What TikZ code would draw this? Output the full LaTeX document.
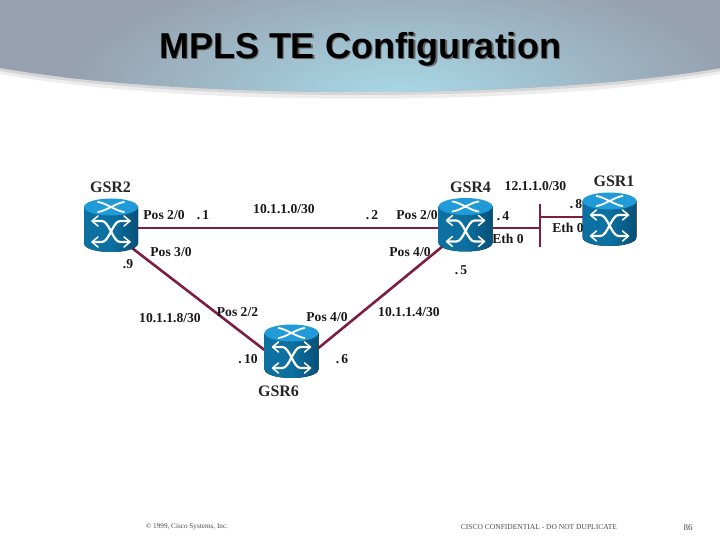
\documentclass[tikz,border=0pt]{standalone}
\usepackage{fontspec}
\setmainfont{Liberation Serif}
\newfontfamily\titlefont{Liberation Sans}
\definecolor{linkred}{RGB}{125,30,60}
\definecolor{rtop}{RGB}{32,155,215}
\definecolor{rside}{RGB}{12,112,160}
\definecolor{rdark}{RGB}{5,80,120}
\definecolor{banedge}{RGB}{150,160,175}
\definecolor{banmid}{RGB}{168,216,230}
\tikzset{
  x=1pt,y=-1pt,
  lnk/.style={draw=linkred,line width=2.6pt},
  rbox/.style={minimum width=54pt,minimum height=53pt,inner sep=0pt,outer sep=0pt},
  lbl/.style={font=\bfseries\fontsize{13.6}{15}\selectfont,inner sep=0pt,text=black!90},
  rname/.style={font=\bfseries\fontsize{16}{18}\selectfont,inner sep=0pt,text=black!85},
  foot/.style={font=\fontsize{7.2}{9}\selectfont,inner sep=0pt,text=black!70},
  arr/.style={draw=white,line cap=round,line join=round},
  ttl/.style={font=\titlefont\bfseries\fontsize{36}{38}\selectfont,inner sep=0pt},
}
\newcommand{\router}[3]{%
  \begin{scope}[shift={(#2,#3)}]
    \fill[left color=rside,right color=rdark,middle color=rside] (-27,-18) -- (-27,18) .. controls (-27,30) and (27,30) .. (27,18) -- (27,-18) -- cycle;
    \fill[rtop] (0,-18) ellipse [x radius=27,y radius=8.5];
    \draw[arr,line width=1.8pt] (-13,-23) .. controls (-5,-22) and (5,-14) .. (13,-13);
    \draw[arr,line width=1.8pt] (13,-23) .. controls (5,-22) and (-5,-14) .. (-13,-13);
    \draw[arr,line width=2.2pt] (-18,-4) -- (-9,-4) .. controls (-2,-4) and (2,17) .. (9,17) -- (18,17);
    \draw[arr,line width=2.2pt] (-18,17) -- (-9,17) .. controls (-2,17) and (2,-4) .. (9,-4) -- (18,-4);
    \draw[arr,line width=1.5pt] (-13,-9) -- (-19,-4) -- (-13,1);
    \draw[arr,line width=1.5pt] (13,-9) -- (19,-4) -- (13,1);
    \draw[arr,line width=1.5pt] (-13,12) -- (-19,17) -- (-13,22);
    \draw[arr,line width=1.5pt] (13,12) -- (19,17) -- (13,22);
  \end{scope}%
  \node[rbox] (#1) at (#2,#3) {};%
}
\begin{document}
\begin{tikzpicture}
\useasboundingbox (0,0) rectangle (720,540);
\fill[white] (0,0) rectangle (720,540);
% banner
\fill[black!7] (0,68) .. controls (180,100) and (540,100) .. (720,68) -- (720,74) .. controls (540,107) and (180,107) .. (0,74) -- cycle;
\fill[black!16] (0,68) .. controls (180,100) and (540,100) .. (720,68) -- (720,71) .. controls (540,103) and (180,103) .. (0,71) -- cycle;
\begin{scope}
  \clip (0,0) -- (720,0) -- (720,68) .. controls (540,100) and (180,100) .. (0,68) -- cycle;
  \fill[banedge] (0,0) rectangle (720,100);
  \shade[inner color=banmid,outer color=banedge] (400,95) ellipse [x radius=340,y radius=130];
\end{scope}
% title, with its drop shadow inside one node
\node[ttl,text=black] (title) at (360,50) {\rlap{\kern1.5pt\raisebox{-1.5pt}{\textcolor{black!60}{MPLS TE Configuration}}}MPLS TE Configuration};
% eth bar and links (routers drawn over their ends)
\coordinate (bartop) at (540,204);
\coordinate (barbot) at (540,247);
\coordinate (barfour) at (540,228);
\coordinate (barone) at (540,217);
\coordinate (twoout) at (132,248);
\coordinate (sixin) at (264.5,350);
\coordinate (sixout) at (318.5,348);
\coordinate (fourin) at (443,246);
\coordinate (leftend) at (138,228);
\coordinate (fourleft) at (438,228);
\coordinate (fourright) at (493,228);
\coordinate (oneleft) at (583,217);
\draw[lnk] (bartop) -- (barbot);
\draw[lnk] (leftend) -- (fourleft);
\draw[lnk] (fourright) -- (barfour);
\draw[lnk] (barone) -- (oneleft);
\draw[lnk] (twoout) -- (sixin);
\draw[lnk] (sixout) -- (fourin);
% labels
\node[lbl] at (164,215) {Pos 2/0};
\node[lbl] at (203,215) {.\,1};
\node[lbl] at (284,209) {10.1.1.0/30};
\node[lbl] at (372,215) {.\,2};
\node[lbl] at (417,215) {Pos 2/0};
\node[lbl] at (503,216) {.\,4};
\node[lbl] at (535.5,186) {12.1.1.0/30};
\node[lbl] at (576,204) {.\,8};
\node[lbl] at (508,239) {Eth 0};
\node[lbl] at (568,228) {Eth 0};
\node[lbl] at (171,252) {Pos 3/0};
\node[lbl] at (128,264) {.9};
\node[lbl] at (410,252) {Pos 4/0};
\node[lbl] at (461,270) {.\,5};
\node[lbl] at (170,318) {10.1.1.8/30};
\node[lbl] at (237.5,312) {Pos 2/2};
\node[lbl] at (327,317) {Pos 4/0};
\node[lbl] at (409,312) {10.1.1.4/30};
\node[lbl] at (248,359) {.\,10};
\node[lbl] at (342,359) {.\,6};
% routers
\router{gsrtwo}{111}{225}
\router{gsrfour}{465.5}{224.5}
\router{gsrone}{609.5}{219}
\router{gsrsix}{291.5}{351}
\node[rname] (ltwo) at (110.5,187) {GSR2};
\node[rname] (lfour) at (470.5,187) {GSR4};
\node[rname] (lone) at (614,181) {GSR1};
\node[rname] (lsix) at (278.5,391) {GSR6};
\node[foot] at (187,527) {© 1999, Cisco Systems, Inc.};
\node[foot,font=\fontsize{7.5}{9}\selectfont] at (539,527) {CISCO CONFIDENTIAL - DO NOT DUPLICATE};
\node[foot,font=\fontsize{9}{10}\selectfont] at (688,528) {86};
\end{tikzpicture}
\end{document}
